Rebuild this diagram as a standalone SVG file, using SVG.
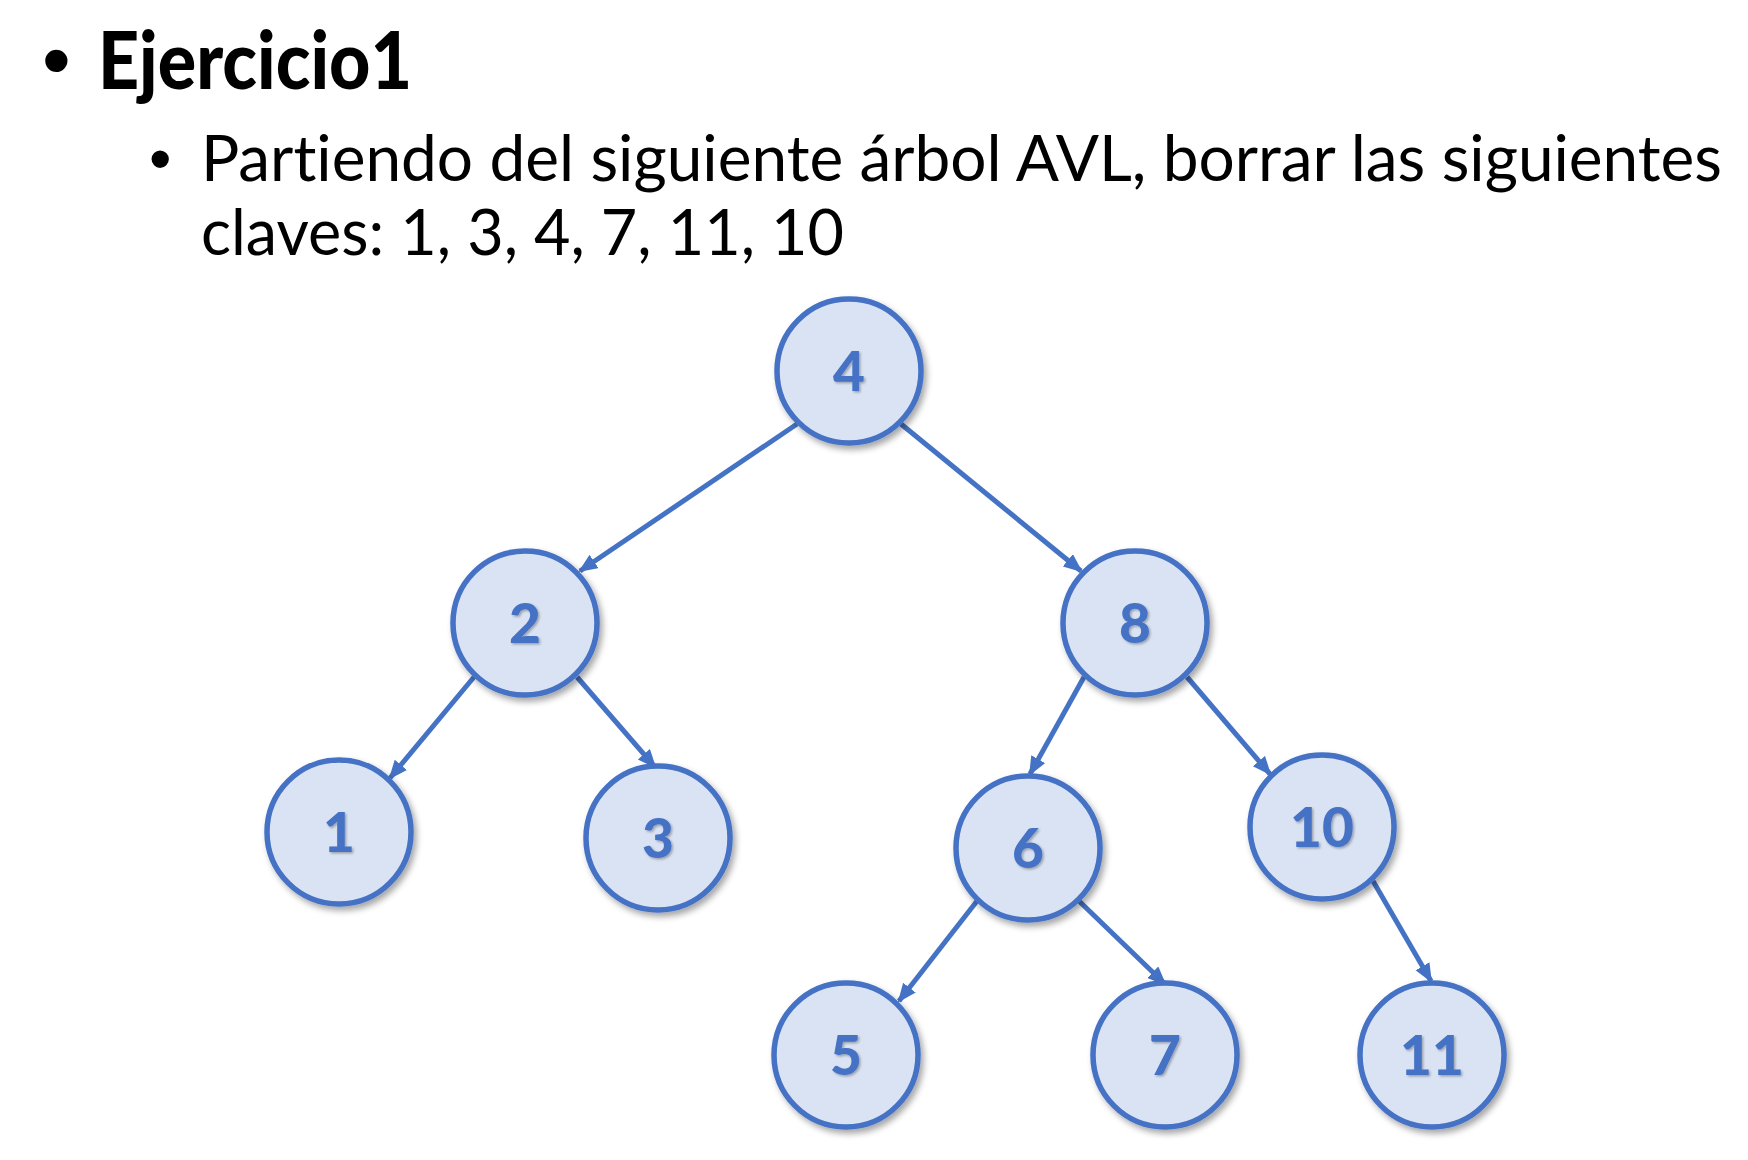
<svg xmlns="http://www.w3.org/2000/svg" width="1748" height="1160" viewBox="0 0 1748 1160">
<style>
.title{font-family:Lato,"Liberation Sans",sans-serif;font-weight:900;font-size:80px;fill:#000}
.body{font-family:Lato,"Liberation Sans",sans-serif;font-size:64px;fill:#000;font-variant-ligatures:none}
.bul{font-family:"Liberation Sans",sans-serif;fill:#000}
.node circle{fill:#DAE3F3;stroke:#4472C4;stroke-width:5.5;filter:url(#sh)}
.node text{font-family:Lato,"Liberation Sans",sans-serif;font-weight:900;font-size:55px;fill:#4472C4;text-anchor:middle;filter:url(#tsh)}
.edge line{stroke:#4472C4;stroke-width:5;marker-end:url(#ah)}
</style>
<defs>
<filter id="sh" x="-30%" y="-30%" width="160%" height="160%">
<feDropShadow dx="3" dy="4" stdDeviation="3" flood-color="#000" flood-opacity="0.35"/>
</filter>
<filter id="tsh" x="-30%" y="-30%" width="160%" height="160%">
<feDropShadow dx="1.5" dy="1.5" stdDeviation="1" flood-color="#000" flood-opacity="0.3"/>
</filter>
<marker id="ah" markerUnits="userSpaceOnUse" markerWidth="20" markerHeight="18" refX="17" refY="8" orient="auto">
<path d="M0,0 L19,8 L0,16 Z" fill="#4472C4"/>
</marker>
</defs>
<g id="header">
<text class="bul" x="42" y="88" font-size="82">•</text>
<text class="title" x="98" y="89" textLength="314" lengthAdjust="spacingAndGlyphs">Ejercicio1</text>
<text class="bul" x="149" y="181" font-size="64">•</text>
<text class="body" x="201" y="181" textLength="1521" lengthAdjust="spacingAndGlyphs">Partiendo del siguiente árbol AVL, borrar las siguientes</text>
<text class="body" x="201" y="255" textLength="643" lengthAdjust="spacingAndGlyphs">claves: 1, 3, 4, 7, 11, 10</text>
</g>
<g id="connectors" class="edge">
<line x1="797" y1="424" x2="580" y2="571"/>
<line x1="901" y1="424" x2="1081" y2="571"/>
<line x1="474" y1="677" x2="390" y2="778"/>
<line x1="577" y1="677" x2="655" y2="767"/>
<line x1="1084" y1="677" x2="1030" y2="774"/>
<line x1="1187" y1="677" x2="1270" y2="774"/>
<line x1="977" y1="901" x2="899" y2="1001"/>
<line x1="1079" y1="901" x2="1165" y2="984"/>
<line x1="1373" y1="881" x2="1431" y2="981"/>
</g>
<g id="node4" class="node"><circle cx="849" cy="371" r="72"/><text x="849" y="391">4</text></g>
<g id="node2" class="node"><circle cx="525" cy="623" r="72"/><text x="525" y="643">2</text></g>
<g id="node8" class="node"><circle cx="1135" cy="623" r="72"/><text x="1135" y="643">8</text></g>
<g id="node1" class="node"><circle cx="339" cy="832" r="72"/><text x="339" y="852">1</text></g>
<g id="node3" class="node"><circle cx="658" cy="838" r="72"/><text x="658" y="858">3</text></g>
<g id="node6" class="node"><circle cx="1028" cy="848" r="72"/><text x="1028" y="868">6</text></g>
<g id="node10" class="node"><circle cx="1322" cy="827" r="72"/><text x="1322" y="847">10</text></g>
<g id="node5" class="node"><circle cx="846" cy="1055" r="72"/><text x="846" y="1075">5</text></g>
<g id="node7" class="node"><circle cx="1165" cy="1055" r="72"/><text x="1165" y="1075">7</text></g>
<g id="node11" class="node"><circle cx="1432" cy="1055" r="72"/><text x="1432" y="1075">11</text></g>
</svg>
